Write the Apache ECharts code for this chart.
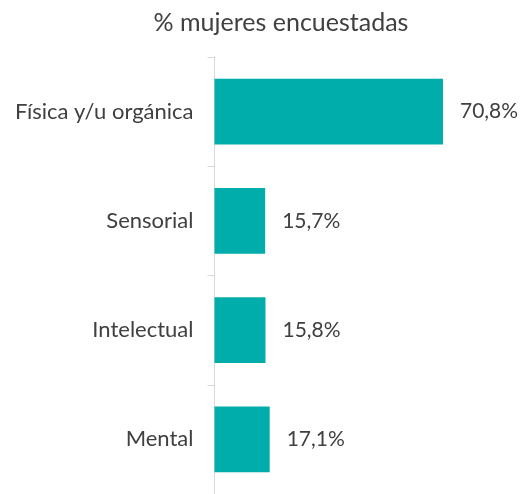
<!DOCTYPE html>
<html><head><meta charset="utf-8">
<script src="https://cdn.jsdelivr.net/npm/echarts@6/dist/echarts.min.js"></script>
<style>html,body{margin:0;padding:0;background:#fff}#c{width:522px;height:494px}</style>
</head><body><div id="c"></div>
<script>
const categories = ["Física y/u orgánica", "Sensorial", "Intelectual", "Mental"];
const values = [70.8, 15.7, 15.8, 17.1];
const titleText = "% mujeres encuestadas";

const chart = echarts.init(document.getElementById('c'), null, {renderer: 'canvas'});
chart.setOption({
  animation: false,
  title: {
    text: titleText, left: 276, top: 5, textAlign: 'center',
    textStyle: {fontFamily: 'Lato', fontWeight: 'normal', fontSize: 25, color: '#404040'}
  },
  grid: {left: 214.5, top: 57, width: 290.4, height: 440, containLabel: false},
  xAxis: {type: 'value', min: 0, max: 90, show: false},
  yAxis: {
    type: 'category', data: categories, inverse: true,
    axisLine: {show: true, lineStyle: {color: '#D9D9D9', width: 1}},
    axisTick: {show: true, length: 7, lineStyle: {color: '#D9D9D9'}},
    axisLabel: {margin: 21, fontFamily: 'Lato', fontSize: 22, color: '#404040'}
  },
  series: [{
    type: 'bar', data: values, barWidth: '60%',
    itemStyle: {color: '#00ADAB'},
    label: {show: true, position: 'right', distance: 17, fontFamily: 'Lato', fontSize: 21, color: '#404040',
      formatter: p => p.value.toFixed(1).replace('.', ',') + '%'}
  }]
});
</script></body></html>
